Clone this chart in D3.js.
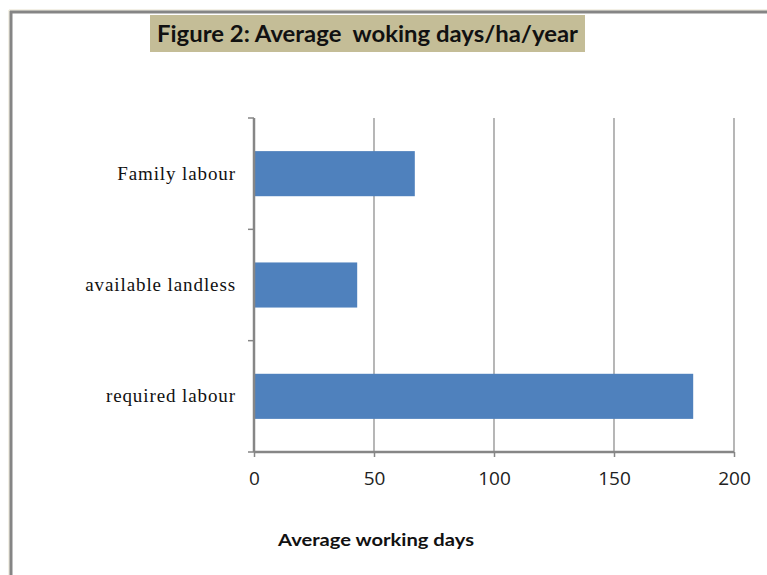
<!DOCTYPE html>
<html><head><meta charset="utf-8">
<script src="https://cdn.jsdelivr.net/npm/d3@7"></script>
<style>html,body{margin:0;padding:0;background:#fff;}svg{display:block;}</style>
</head><body>
<script>
const categories = ["Family labour", "available landless", "required labour"];
const values = [67, 43, 183];
const xTicks = [0, 50, 100, 150, 200];
const titleText = "Figure 2: Average  woking days/ha/year";
const xAxisTitle = "Average working days";

(function () {
const W = 767, H = 575;
const svg = d3.select("body").append("svg").attr("width", W).attr("height", H);

// frame
svg.append("line").attr("x1", 9).attr("x2", W).attr("y1", 10).attr("y2", 10).attr("stroke", "#e6e1cc").attr("stroke-width", 1);
svg.append("line").attr("x1", 9).attr("x2", 9).attr("y1", 10).attr("y2", H).attr("stroke", "#e6e1cc").attr("stroke-width", 1);
svg.append("line").attr("x1", 10).attr("x2", W).attr("y1", 12).attr("y2", 12).attr("stroke", "#858585").attr("stroke-width", 3);
svg.append("line").attr("x1", 11).attr("x2", 11).attr("y1", 11).attr("y2", H).attr("stroke", "#858585").attr("stroke-width", 3);

// title box
svg.append("rect").attr("x", 150).attr("y", 15).attr("width", 435).attr("height", 37).attr("fill", "#c4bd97");
svg.append("text").attr("x", 157).attr("y", 42).text(titleText)
  .attr("font-family", "Lato, 'Open Sans', sans-serif").attr("font-weight", "bold").attr("font-size", 22)
  .attr("fill", "#111").attr("textLength", 421).attr("lengthAdjust", "spacingAndGlyphs").style("white-space", "pre");

const pLeft = 254, pRight = 734, pTop = 118, pBottom = 452;
const x = d3.scaleLinear().domain([0, 200]).range([pLeft, pRight]);
const y = d3.scaleBand().domain(categories).range([pTop, pBottom]).paddingInner(0.595).paddingOuter(0.2975);

// gridlines
svg.append("g").selectAll("line").data(xTicks.slice(1)).join("line")
  .attr("x1", d => x(d)).attr("x2", d => x(d)).attr("y1", pTop).attr("y2", pBottom)
  .attr("stroke", "#868686").attr("stroke-width", 1.2);

// bars
svg.append("g").selectAll("rect").data(values).join("rect")
  .attr("x", x(0)).attr("y", (d, i) => y(categories[i]))
  .attr("width", d => x(d) - x(0)).attr("height", y.bandwidth())
  .attr("fill", "#4f81bd");

// x axis
const xAxis = d3.axisBottom(x).tickValues(xTicks).tickSize(5).tickPadding(15).tickFormat(d3.format("d"));
const gx = svg.append("g").attr("transform", `translate(0,${pBottom})`).call(xAxis);
gx.select(".domain").attr("stroke", "#868686").attr("stroke-width", 2.5).attr("d", `M${pLeft},0H${pRight}`);
gx.selectAll(".tick line").attr("stroke", "#868686").attr("stroke-width", 1.5);
gx.selectAll(".tick text").attr("font-family", "'Open Sans', 'DejaVu Sans', sans-serif").attr("font-size", 19).attr("fill", "#222");

// y axis
const yStep = (pBottom - pTop) / categories.length;
const yAxis = d3.axisLeft(y).tickSize(0).tickPadding(18);
const gy = svg.append("g").attr("transform", `translate(${pLeft},0)`).call(yAxis);
gy.select(".domain").attr("stroke", "#868686").attr("stroke-width", 2.5).attr("d", `M0,${pTop}V${pBottom}`);
gy.selectAll(".tick text").attr("font-family", "'Liberation Serif', 'Times New Roman', serif").attr("font-size", 19)
  .attr("letter-spacing", "0.9px").attr("fill", "#111");
gy.append("g").selectAll("line").data(d3.range(categories.length + 1)).join("line")
  .attr("x1", -6).attr("x2", 0).attr("y1", i => pTop + i * yStep).attr("y2", i => pTop + i * yStep)
  .attr("stroke", "#868686").attr("stroke-width", 1.5);

// axis title
svg.append("text").attr("x", 376).attr("y", 546).attr("text-anchor", "middle").text(xAxisTitle)
  .attr("font-family", "Lato, 'Open Sans', sans-serif").attr("font-weight", "bold").attr("font-size", 17)
  .attr("fill", "#111").attr("textLength", 196).attr("lengthAdjust", "spacingAndGlyphs");
})();
</script>
</body></html>
